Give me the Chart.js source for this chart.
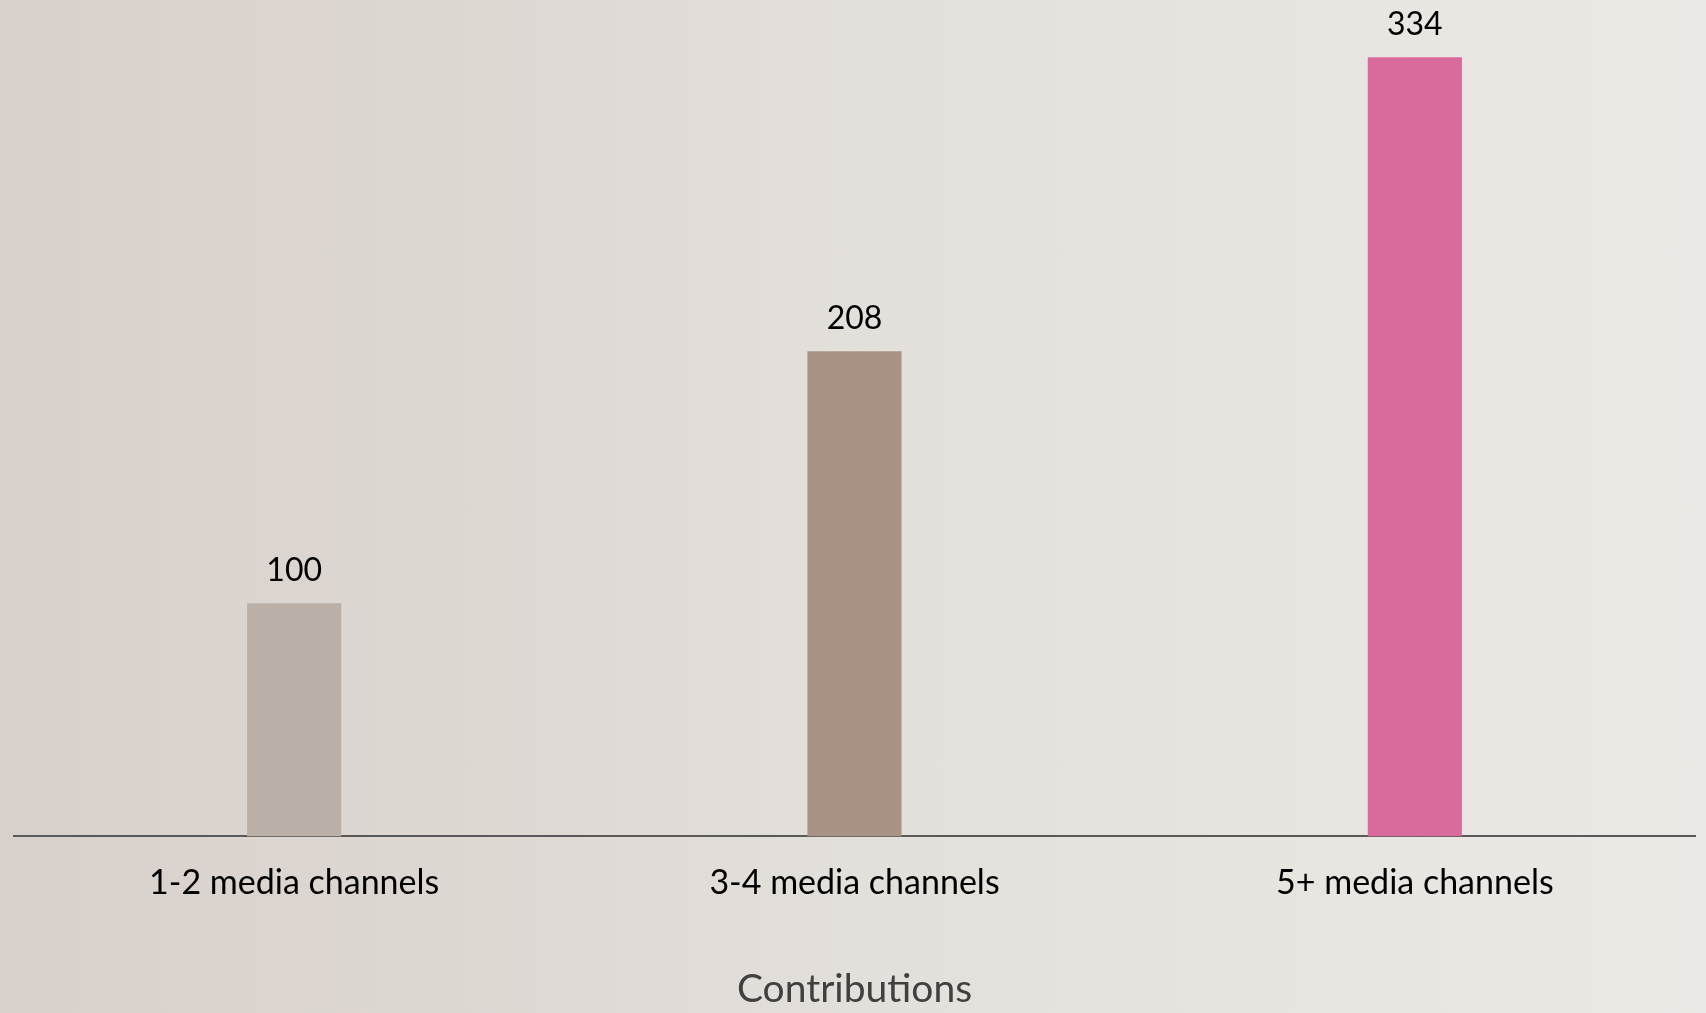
<!DOCTYPE html>
<html>
<head>
<meta charset="utf-8">
<script src="https://cdn.jsdelivr.net/npm/chart.js@4/dist/chart.umd.min.js"></script>
<style>
  html, body { margin: 0; padding: 0; }
  body {
    width: 1706px; height: 1013px; overflow: hidden;
    background: linear-gradient(to right, #d8d0cb 0%, #ddd7d2 25%, #e3dfdb 50%, #e8e4e0 75%, #ece8e5 100%);
  }
  #wrap { position: relative; width: 1706px; height: 1013px; }
</style>
</head>
<body>
<div id="wrap"><canvas id="contribChart"></canvas></div>
<script>
// Datos del gráfico
const categorias = ["1-2 media channels", "3-4 media channels", "5+ media channels"];
const valores = [100, 208, 334];
const coloresBarras = ["#bab0a8", "#a99385", "#d96b9c"];
const tituloEje = "Contributions";

// Plugin para dibujar el valor encima de cada barra
const etiquetasValores = {
    id: "etiquetasValores",
    afterDatasetsDraw(chart) {
        const ctx = chart.ctx;
        const meta = chart.getDatasetMeta(0);
        ctx.save();
        ctx.font = "32px Lato";
        ctx.fillStyle = "#000000";
        ctx.textAlign = "center";
        ctx.textBaseline = "alphabetic";
        meta.data.forEach((bar, i) => {
            ctx.fillText(String(valores[i]), bar.x, bar.y - 22);
        });
        ctx.restore();
    }
};

const ctx = document.getElementById("contribChart").getContext("2d");
const contribChart = new Chart(ctx, {
    type: "bar",
    data: {
        labels: categorias,
        datasets: [{
            data: valores,
            backgroundColor: coloresBarras,
            borderWidth: 0,
            categoryPercentage: 1,
            barPercentage: 0.168
        }]
    },
    options: {
        responsive: true,
        maintainAspectRatio: false,
        animation: false,
        layout: { padding: { left: 14, right: 11, top: 20, bottom: 0 } },
        plugins: {
            legend: { display: false },
            tooltip: { enabled: false }
        },
        scales: {
            x: {
                grid: { display: false, drawTicks: false },
                border: { color: "#595959", width: 2 },
                ticks: {
                    color: "#000000",
                    font: { family: "Lato", size: 34 },
                    padding: 26
                },
                title: {
                    display: true,
                    text: tituloEje,
                    color: "#404040",
                    font: { family: "Lato", size: 39 },
                    padding: { top: 37, bottom: 0 }
                }
            },
            y: {
                display: false,
                beginAtZero: true,
                min: 0,
                max: 350
            }
        }
    },
    plugins: [etiquetasValores]
});
</script>
</body>
</html>
